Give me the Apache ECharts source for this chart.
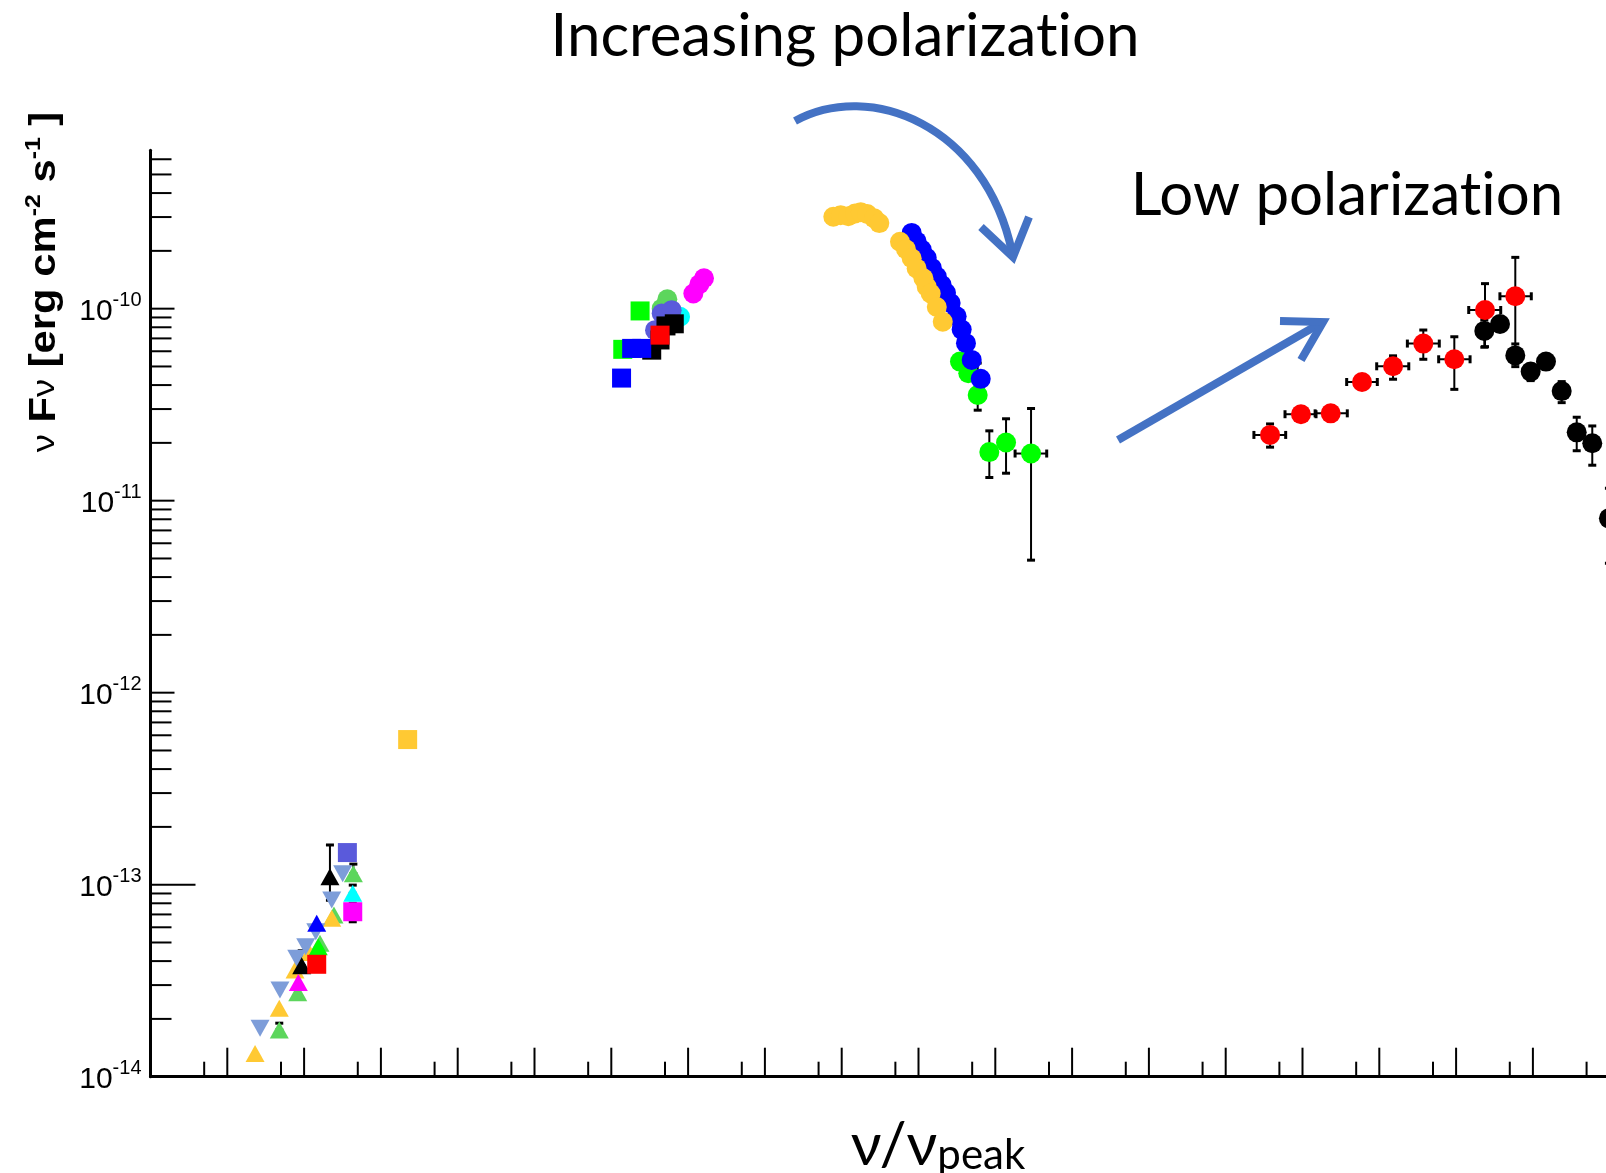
<!DOCTYPE html>
<html>
<head>
<meta charset="utf-8">
<script src="https://cdn.jsdelivr.net/npm/echarts@6/dist/echarts.min.js"></script>
<style>
  html, body { margin: 0; padding: 0; background: #ffffff; }
  #chart { width: 1606px; height: 1173px; }
</style>
</head>
<body>
<div id="chart"></div>
<script>
// x = nu / nu_peak, y = nu F_nu [erg cm^-2 s^-1]

// ---- radio / mm ----
const radioYellowTri = [[2.30e-8, 1.32e-14], [4.75e-8, 2.27e-14], [7.62e-8, 3.60e-14], [1.17e-7, 4.43e-14], [2.29e-7, 6.68e-14]];
const radioSteelTriDown = [[2.67e-8, 1.79e-14], [4.85e-8, 2.83e-14], [8.02e-8, 4.14e-14], [1.05e-7, 4.75e-14], [1.42e-7, 5.69e-14], [2.29e-7, 8.32e-14], [3.18e-7, 1.14e-13]];
const radioGreenTri = [[4.75e-8, 1.75e-14], [8.26e-8, 2.74e-14], [1.61e-7, 4.95e-14], [2.45e-7, 6.95e-14], [4.38e-7, 1.14e-13]];
const radioMagentaTri = [[8.41e-8, 3.09e-14]];
const radioBlackTri = [[9.31e-8, 3.78e-14], [2.17e-7, 1.10e-13]];
const radioLimeTri = [[1.53e-7, 4.75e-14]];
const radioBlueTri = [[1.46e-7, 6.30e-14]];
const radioCyanTri = [[4.30e-7, 9.02e-14]];
const radioRedSq = [[1.46e-7, 3.85e-14]];
const radioSlateSq = [[3.66e-7, 1.47e-13]];
const radioMagentaSq = [[4.30e-7, 7.23e-14]];
const mmYellowSq = [[2.23e-6, 5.70e-13]];
// [x, yLow, yHigh]
const radioErrY = [[4.75e-8, 1.75e-14, 1.90e-14], [9.31e-8, 3.78e-14, 4.53e-14], [2.17e-7, 8.30e-14, 1.61e-13], [4.38e-7, 1.14e-13, 1.28e-13], [4.30e-7, 9.02e-14, 9.95e-14], [4.30e-7, 6.41e-14, 8.00e-14]];

// ---- IR / optical ----
const optGreenSq = [[1.41e-3, 6.14e-11], [2.37e-3, 9.73e-11]];
const optBlueSq = [[1.36e-3, 4.35e-11], [1.84e-3, 6.21e-11], [2.49e-3, 6.21e-11]];
const optBlackSq = [[3.36e-3, 6.08e-11], [4.31e-3, 6.87e-11], [5.15e-3, 8.13e-11], [6.61e-3, 8.34e-11]];
const optRedSq = [[4.31e-3, 7.28e-11]];
const optGreenDot = [[4.53e-3, 1.00e-10], [5.36e-3, 1.12e-10]];
const optCyanDot = [[7.85e-3, 9.08e-11]];
const optSlateDot = [[3.71e-3, 7.73e-11], [4.53e-3, 9.44e-11], [6.11e-3, 9.82e-11]];
const optMagentaDot = [[1.17e-2, 1.20e-10], [1.40e-2, 1.34e-10], [1.61e-2, 1.44e-10]];

// ---- UV / X-ray ----
const uvYellowDot = [[0.778, 3.01e-10], [0.970, 3.07e-10], [1.22, 3.03e-10], [1.49, 3.13e-10], [1.77, 3.18e-10], [2.15, 3.11e-10], [2.64, 2.96e-10], [3.09, 2.79e-10]];
const xrayYellowDot = [[5.74, 2.23e-10], [6.87, 2.04e-10], [8.15, 1.83e-10], [9.46, 1.62e-10], [11.6, 1.44e-10], [12.8, 1.30e-10], [14.4, 1.20e-10], [17.3, 1.02e-10], [20.7, 8.55e-11]];
const xrayBlueDot = [[8.15, 2.48e-10], [9.46, 2.24e-10], [11.0, 2.03e-10], [12.8, 1.84e-10], [14.9, 1.63e-10], [17.3, 1.47e-10], [20.0, 1.33e-10], [22.8, 1.21e-10], [26.2, 1.07e-10], [31.4, 9.12e-11], [36.5, 7.78e-11], [41.5, 6.61e-11], [49.3, 5.41e-11], [64.6, 4.31e-11]];
const xrayGreenDot = [[34.7, 5.30e-11], [44.5, 4.61e-11], [59.0, 3.55e-11], [83.6, 1.79e-11], [138, 2.01e-11], [292, 1.76e-11]];
const xrayGreenErrY = [[44.5, 4.30e-11, 4.95e-11], [59.0, 2.96e-11, 5.21e-11], [83.6, 1.32e-11, 2.31e-11], [138, 1.39e-11, 2.67e-11], [292, 4.90e-12, 3.02e-11]];
// [y, xLow, xHigh]
const xrayGreenErrX = [[1.76e-11, 181, 467]];

// ---- gamma rays (GeV) ----
const gammaRedDot = [[3.78e5, 2.20e-11], [9.55e5, 2.82e-11], [2.33e6, 2.85e-11], [5.96e6, 4.15e-11], [1.51e7, 5.01e-11], [3.74e7, 6.58e-11], [9.48e7, 5.45e-11], [2.38e8, 9.84e-11], [5.90e8, 1.16e-10]];
const gammaRedXLow = [2.33e5, 5.92e5, 1.46e6, 3.76e6, 9.25e6, 2.32e7, 5.93e7, 1.46e8, 3.72e8];
const gammaRedXHigh = [6.04e5, 1.50e6, 3.83e6, 9.42e6, 2.42e7, 6.04e7, 1.52e8, 3.81e8, 9.53e8];
const gammaRedYLow = [1.90e-11, 2.72e-11, 2.75e-11, 3.95e-11, 4.29e-11, 5.45e-11, 3.80e-11, 6.34e-11, 5.71e-11];
const gammaRedYHigh = [2.51e-11, 2.92e-11, 2.95e-11, 4.36e-11, 5.68e-11, 7.74e-11, 7.14e-11, 1.35e-10, 1.85e-10];

// ---- very high energy (TeV) ----
const tevBlackDot = [[2.33e8, 7.66e-11], [3.73e8, 8.32e-11], [5.90e8, 5.71e-11], [9.35e8, 4.70e-11], [1.48e9, 5.30e-11], [2.37e9, 3.72e-11], [3.72e9, 2.27e-11], [5.93e9, 1.99e-11], [9.77e9, 8.09e-12]];
const tevBlackYLow = [6.30e-11, null, 4.99e-11, 4.22e-11, null, 3.24e-11, 1.82e-11, 1.53e-11, 4.72e-12];
const tevBlackYHigh = [8.73e-11, null, 6.55e-11, 5.00e-11, null, 4.17e-11, 2.72e-11, 2.45e-11, 1.16e-11];

// ---- axes ----
// the frequency axis runs off the right edge of the figure
const X_MIN = 1e-9, X_MAX = 8.95e9;
const Y_MIN = 1e-14, Y_MAX = 6.68e-10;
const yDecadeTicks = [1e-14, 1e-12, 1e-11, 1e-10];
const yLongTicks = [1e-13];
const yMinorTicks = [];
for (let e = -14; e <= -10; e++) {
  for (let k = 2; k <= 9; k++) {
    const v = k * Math.pow(10, e);
    if (v <= Y_MAX) yMinorTicks.push(v);
  }
}
const xLongTicks = [];
const xShortTicks = [];
for (let e = -8; e <= 10; e++) {
  xLongTicks.push(Math.pow(10, e));
  xShortTicks.push(5 * Math.pow(10, e - 1));
}

const YELLOW = '#FFC933', STEEL = '#7D9DD9', LTGREEN = '#5CD65C', LIME = '#00FF00',
      BLUE = '#0000FF', MAGENTA = '#FF00FF', CYAN = '#00FFFF', SLATE = '#5A5ADB',
      RED = '#FF0000', BLACK = '#000000', ARROW = '#4472C4';

function marks(data, color, symbol, size, rotate) {
  return {
    type: 'scatter', data: data, symbol: symbol, symbolSize: size,
    symbolRotate: rotate || 0, itemStyle: { color: color, opacity: 1 },
    z: 3, silent: true, clip: false
  };
}

function yTicks(values, len) {
  return {
    type: 'custom', coordinateSystem: 'cartesian2d', silent: true, clip: false, z: 5,
    data: values.map(v => [X_MIN, v]), encode: { x: 0, y: 1 },
    renderItem: function (params, api) {
      const p = api.coord([api.value(0), api.value(1)]);
      return { type: 'line', shape: { x1: p[0], y1: p[1], x2: p[0] + len, y2: p[1] },
               style: { stroke: '#000', lineWidth: 2 } };
    }
  };
}

function xTicks(values, len) {
  return {
    type: 'custom', coordinateSystem: 'cartesian2d', silent: true, clip: false, z: 5,
    data: values.map(v => [v, Y_MIN]), encode: { x: 0, y: 1 },
    renderItem: function (params, api) {
      const p = api.coord([api.value(0), api.value(1)]);
      return { type: 'line', shape: { x1: p[0], y1: p[1], x2: p[0], y2: p[1] - len },
               style: { stroke: '#000', lineWidth: 2 } };
    }
  };
}

const CAP = 8;
// vertical error bars, rows [x, yLow, yHigh]
function errY(rows) {
  return {
    type: 'custom', coordinateSystem: 'cartesian2d', silent: true, clip: false, z: 2,
    data: rows, encode: { x: 0, y: [1, 2] },
    renderItem: function (params, api) {
      const x = api.value(0);
      const a = api.coord([x, api.value(1)]);
      const b = api.coord([x, api.value(2)]);
      const c = CAP / 2;
      return { type: 'group', children: [
        { type: 'line', shape: { x1: a[0], y1: a[1], x2: b[0], y2: b[1] }, style: { stroke: '#000', lineWidth: 2 } },
        { type: 'line', shape: { x1: a[0] - c, y1: a[1], x2: a[0] + c, y2: a[1] }, style: { stroke: '#000', lineWidth: 3 } },
        { type: 'line', shape: { x1: b[0] - c, y1: b[1], x2: b[0] + c, y2: b[1] }, style: { stroke: '#000', lineWidth: 3 } }
      ] };
    }
  };
}
// horizontal error bars, rows [y, xLow, xHigh]
function errX(rows) {
  return {
    type: 'custom', coordinateSystem: 'cartesian2d', silent: true, clip: false, z: 2,
    data: rows.map(r => [r[1], r[2], r[0]]), encode: { x: [0, 1], y: 2 },
    renderItem: function (params, api) {
      const y = api.value(2);
      const a = api.coord([api.value(0), y]);
      const b = api.coord([api.value(1), y]);
      const c = CAP / 2;
      return { type: 'group', children: [
        { type: 'line', shape: { x1: a[0], y1: a[1], x2: b[0], y2: b[1] }, style: { stroke: '#000', lineWidth: 2 } },
        { type: 'line', shape: { x1: a[0], y1: a[1] - c, x2: a[0], y2: a[1] + c }, style: { stroke: '#000', lineWidth: 3 } },
        { type: 'line', shape: { x1: b[0], y1: b[1] - c, x2: b[0], y2: b[1] + c }, style: { stroke: '#000', lineWidth: 3 } }
      ] };
    }
  };
}

const gammaRedErrY = gammaRedDot.map((p, i) => [p[0], gammaRedYLow[i], gammaRedYHigh[i]]);
const gammaRedErrX = gammaRedDot.map((p, i) => [p[1], gammaRedXLow[i], gammaRedXHigh[i]]);
const tevBlackErrY = tevBlackDot.map((p, i) => [p[0], tevBlackYLow[i], tevBlackYHigh[i]]).filter(r => r[1] != null);

const TRI = [19, 17];
const SQ = 19;
const DOT = 20;
const SANS = 'Lato, "Noto Sans", sans-serif';

const chart = echarts.init(document.getElementById('chart'), null, { renderer: 'canvas' });
chart.setOption({
  animation: false,
  backgroundColor: '#ffffff',
  grid: { left: 150.5, top: 150.3, right: 0, bottom: 96.3, containLabel: false },
  xAxis: {
    type: 'log', logBase: 10, min: X_MIN, max: X_MAX,
    axisLine: { show: true, onZero: false, lineStyle: { color: '#000', width: 3 } },
    axisTick: { show: false }, axisLabel: { show: false }, splitLine: { show: false }
  },
  yAxis: {
    type: 'log', logBase: 10, min: Y_MIN, max: Y_MAX,
    axisLine: { show: true, onZero: false, lineStyle: { color: '#000', width: 3 } },
    axisTick: { show: false }, splitLine: { show: false },
    axisLabel: {
      show: true, margin: 9, padding: [6, 0, 0, 0],
      formatter: function (v) {
        const l = Math.log10(v);
        const e = Math.round(l);
        if (Math.abs(l - e) > 1e-6) return '';
        return '{b|10}{e|' + e + '}';
      },
      rich: {
        b: { fontFamily: 'Liberation Sans', fontSize: 30, lineHeight: 42, color: '#000' },
        e: { fontFamily: 'Liberation Sans', fontSize: 20, lineHeight: 21, verticalAlign: 'top', color: '#000' }
      }
    }
  },
  graphic: [
    { type: 'text', x: 845, y: 37, silent: true,
      style: { text: '{t|Increasing polarizat}{t|ion}', align: 'center', verticalAlign: 'middle',
               rich: { t: { fontFamily: SANS, fontSize: 60, fill: '#000' } } } },
    { type: 'text', x: 1347, y: 196, silent: true,
      style: { text: '{t|Low polarizat}{t|ion}', align: 'center', verticalAlign: 'middle',
               rich: { t: { fontFamily: SANS, fontSize: 60, fill: '#000' } } } },
    { type: 'text', x: 938, y: 1176, silent: true,
      style: { text: '{a|\u03bd/\u03bd}{b|peak}', align: 'center', verticalAlign: 'bottom',
               rich: {
                 a: { fontFamily: SANS, fontSize: 60, lineHeight: 62, verticalAlign: 'bottom', fill: '#000' },
                 b: { fontFamily: SANS, fontSize: 42, lineHeight: 46, verticalAlign: 'bottom', fill: '#000' }
               } } },
    { type: 'text', x: 45, y: 282, rotation: Math.PI / 2, scaleX: 1.13, silent: true,
      style: { text: '{n|\u03bd} F{n|\u03bd} [erg cm{s|-2} s{s|-1} ]',
               fontFamily: 'Liberation Sans', fontWeight: 'bold', fontSize: 37,
               fill: '#000', align: 'center', verticalAlign: 'middle',
               rich: {
                 n: { fontFamily: 'Liberation Sans', fontWeight: 'normal', fontSize: 32, lineHeight: 44, fill: '#000' },
                 s: { fontFamily: 'Liberation Sans', fontWeight: 'bold', fontSize: 22, lineHeight: 22, verticalAlign: 'top', fill: '#000' }
               } } },
    // curved arrow
    { type: 'bezierCurve', silent: true,
      shape: { x1: 795, y1: 121, cpx1: 870, cpy1: 80, cpx2: 985, cpy2: 125, x2: 1012, y2: 252 },
      style: { stroke: ARROW, lineWidth: 8, fill: null } },
    { type: 'polyline', silent: true,
      shape: { points: [[981, 227], [1013, 257], [1029, 217]] },
      style: { stroke: ARROW, lineWidth: 8, fill: null, lineJoin: 'miter' } },
    // straight arrow
    { type: 'line', silent: true,
      shape: { x1: 1118, y1: 440, x2: 1321, y2: 323 },
      style: { stroke: ARROW, lineWidth: 8 } },
    { type: 'polyline', silent: true,
      shape: { points: [[1280, 321], [1323, 322], [1301, 360]] },
      style: { stroke: ARROW, lineWidth: 8, fill: null, lineJoin: 'miter' } }
  ],
  series: [
    // error bars
    errY(radioErrY),
    errY(xrayGreenErrY),
    errX(xrayGreenErrX),
    errY(gammaRedErrY),
    errX(gammaRedErrX),
    errY(tevBlackErrY),
    // radio / mm
    marks(radioGreenTri, LTGREEN, 'triangle', TRI),
    marks(radioYellowTri, YELLOW, 'triangle', TRI),
    marks(radioSteelTriDown, STEEL, 'triangle', TRI, 180),
    marks(radioBlackTri, BLACK, 'triangle', TRI),
    marks(radioMagentaTri, MAGENTA, 'triangle', TRI),
    marks(radioLimeTri, LIME, 'triangle', TRI),
    marks(radioBlueTri, BLUE, 'triangle', TRI),
    marks(radioCyanTri, CYAN, 'triangle', TRI),
    marks(radioRedSq, RED, 'rect', SQ),
    marks(radioSlateSq, SLATE, 'rect', SQ),
    marks(radioMagentaSq, MAGENTA, 'rect', SQ),
    marks(mmYellowSq, YELLOW, 'rect', SQ),
    // IR / optical
    marks(optGreenDot, LTGREEN, 'circle', DOT),
    marks(optCyanDot, CYAN, 'circle', DOT),
    marks(optSlateDot, SLATE, 'circle', DOT),
    marks(optMagentaDot, MAGENTA, 'circle', DOT),
    marks(optGreenSq, LIME, 'rect', SQ),
    marks(optBlackSq, BLACK, 'rect', SQ),
    marks(optBlueSq, BLUE, 'rect', SQ),
    marks(optRedSq, RED, 'rect', SQ),
    // UV / X-ray
    marks(xrayGreenDot, LIME, 'circle', DOT),
    marks(xrayBlueDot, BLUE, 'circle', DOT),
    marks(uvYellowDot, YELLOW, 'circle', DOT),
    marks(xrayYellowDot, YELLOW, 'circle', DOT),
    // gamma rays
    marks(gammaRedDot, RED, 'circle', DOT),
    marks(tevBlackDot, BLACK, 'circle', DOT),
    // axis ticks
    yTicks(yMinorTicks, 21),
    yTicks(yDecadeTicks, 24),
    yTicks(yLongTicks, 45),
    xTicks(xShortTicks, 15),
    xTicks(xLongTicks, 29)
  ]
});
</script>
</body>
</html>
